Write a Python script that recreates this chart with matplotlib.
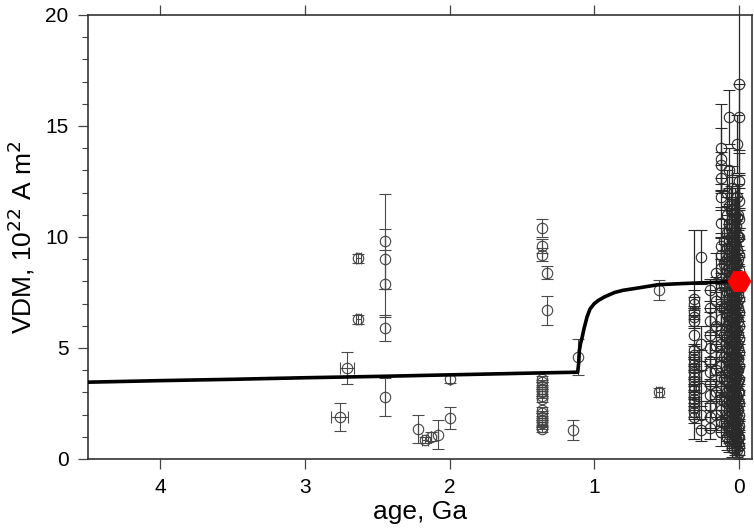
import numpy as np
import matplotlib.pyplot as plt
from matplotlib.ticker import MultipleLocator

plt.rcParams['font.family'] = ['Liberation Sans', 'DejaVu Sans']

# model curve
model_age = [4.5, 4.0, 3.5, 3.0, 2.5, 2.0, 1.5, 1.115, 1.108, 1.103, 1.095, 1.085,
             1.07, 1.05, 1.03, 1.0, 0.97, 0.93, 0.86, 0.8, 0.7, 0.56, 0.4, 0.2, 0.0]
model_vdm = [3.46, 3.53, 3.59, 3.66, 3.72, 3.79, 3.86, 3.91, 4.3, 4.9, 5.2, 5.45,
             5.9, 6.4, 6.75, 7.0, 7.15, 7.3, 7.5, 7.6, 7.7, 7.85, 7.9, 7.95, 8.0]

# older, scattered determinations
old_age = [2.71, 2.76, 2.63, 2.63, 2.45, 2.45, 2.45, 2.45, 2.45, 2.0, 2.0, 2.22,
           2.17, 2.13, 2.08, 1.36, 1.36, 1.36, 1.33, 1.33, 1.15, 1.11, 0.55, 0.55]
old_vdm = [4.1, 1.9, 9.05, 6.3, 9.8, 9.0, 7.9, 5.9, 2.8, 3.6, 1.85, 1.35,
           0.85, 1.0, 1.1, 10.4, 9.6, 9.2, 8.4, 6.7, 1.3, 4.6, 7.6, 3.0]
old_age_err = [0.05, 0.06, 0.02, 0.02, 0, 0, 0, 0, 0, 0, 0, 0,
               0.02, 0, 0, 0, 0, 0, 0, 0, 0, 0, 0, 0.02]
old_vdm_err = [0.7, 0.62, 0.2, 0.2, 2.15, 1.35, 1.5, 0.6, 0.85, 0.17, 0.5, 0.65,
               0.15, 0.2, 0.65, 0.4, 0.3, 0.3, 0.3, 0.65, 0.45, 0.8, 0.45, 0.2]

# tight group near 1.36 Ga
g136_vdm = [3.6, 3.45, 3.3, 3.15, 3.0, 2.85, 2.7, 2.2, 2.05, 1.9, 1.75, 1.6, 1.45, 1.35]
g136_err = [0.15, 0.1, 0.15, 0.1, 0.15, 0.1, 0.15, 0.15, 0.1, 0.15, 0.1, 0.15, 0.1, 0.15]

# young data, column by column
c031_vdm = [7.2, 7.0, 6.6, 6.4, 6.2, 5.6, 4.9, 4.7, 4.5, 4.3, 4.1, 3.9, 3.7, 3.5,
            3.3, 3.1, 2.9, 2.7, 2.5, 2.3, 2.1, 1.9]
c031_err = [0.4, 0.3, 0.3, 0.4, 0.3, 4.7, 0.3, 0.4, 0.3, 0.3, 0.4, 0.3, 0.3, 0.4,
            0.3, 0.3, 0.4, 0.3, 0.3, 0.4, 0.3, 0.3]
c025_vdm = [9.1, 5.2, 4.2, 3.2, 2.0, 1.3]
c025_err = [1.2, 0.8, 0.7, 0.8, 0.6, 0.5]
c020_vdm = [7.6, 6.8, 6.2, 5.6, 5.0, 4.4, 3.9, 3.4, 2.9, 2.4, 1.9, 1.4]
c020_err = [0.5, 0.8, 0.6, 1.0, 0.7, 0.9, 0.6, 0.8, 0.7, 1.0, 0.6, 0.5]
c016_vdm = [8.4, 7.1, 6.0, 5.1, 4.0, 3.0, 2.0]
c016_err = [0.9, 1.1, 0.8, 1.0, 0.9, 0.8, 0.7]
c013_vdm = [14.0, 13.5, 13.25, 12.65, 11.8, 10.65, 9.6, 9.2, 8.6, 8.1, 7.5, 6.9,
            6.3, 5.8, 5.2, 4.7, 4.2, 3.7, 3.2, 2.7, 2.2, 1.7, 1.2]
c013_err = [2.0, 1.4, 0.6, 0.6, 0.6, 0.7, 0.6, 0.8, 0.7, 0.9, 0.6, 0.8,
            0.7, 1.0, 0.6, 0.8, 0.9, 0.7, 0.6, 0.8, 0.7, 0.5, 0.6]
c010_vdm = [9.8, 8.8, 7.8, 6.8, 5.6, 4.6, 3.6, 2.6, 1.6]
c010_err = [1.0, 0.9, 1.1, 0.8, 1.0, 0.9, 0.8, 0.7, 0.6]
c008_vdm = [12.0, 11.0, 10.2, 9.5, 9.0, 8.5, 8.0, 7.5, 7.0, 6.5, 6.0, 5.5, 5.0,
            4.5, 4.0, 3.5, 3.0, 2.5, 2.0, 1.5, 1.0]
c008_err = [1.0, 0.8, 1.2, 0.9, 1.0, 0.8, 1.1, 0.9, 1.0, 0.8, 1.2, 0.9, 1.0,
            0.8, 1.1, 0.9, 1.0, 0.8, 0.9, 0.7, 0.6]
c0067_vdm = [15.4, 13.0, 11.4, 10.6, 9.8, 9.2, 8.7, 8.2, 7.7, 7.2, 6.7, 6.2, 5.8,
             5.3, 4.9, 4.4, 4.0, 3.5, 3.1, 2.6, 2.2, 1.7, 1.3, 0.8]
c0067_err = [1.2, 1.0, 0.8, 0.9, 0.8, 1.0, 0.7, 0.9, 0.8, 1.0, 0.7, 0.9, 0.8,
             1.0, 0.7, 0.9, 0.8, 1.0, 0.7, 0.9, 0.8, 0.7, 0.6, 0.5]
c0055_vdm = [11.2, 10.4, 9.6, 8.9, 8.3, 7.6, 7.0, 6.4, 5.9, 5.4, 4.9, 4.5, 4.1,
             3.7, 3.3, 2.9, 2.5, 2.1, 1.7, 1.4]
c0055_err = [1.1, 0.9, 1.2, 1.0, 1.1, 0.9, 1.2, 1.0, 1.1, 0.9, 1.2, 1.0, 1.1,
             0.9, 1.0, 0.9, 0.8, 0.7, 0.6, 0.5]
c0045_vdm = [12.2, 11.5, 10.8, 10.0, 9.3, 8.6, 7.9, 7.2, 6.6, 6.0, 5.4, 4.8, 4.3,
             3.8, 3.3, 2.8, 2.3, 1.8, 1.3, 0.9, 0.5]
c0045_err = [1.0, 1.2, 0.9, 1.1, 1.0, 1.2, 0.9, 1.1, 1.0, 1.2, 0.9, 1.1, 1.0,
             1.2, 0.9, 1.1, 1.0, 0.9, 0.8, 0.6, 0.4]
c0038_vdm = [9.8, 9.0, 8.3, 7.5, 6.9, 6.3, 5.7, 5.2, 4.7, 4.3, 3.9, 3.4, 2.9,
             2.5, 2.1, 1.7, 1.4, 1.1]
c0038_err = [1.2, 1.0, 1.3, 1.1, 1.2, 1.0, 1.3, 1.1, 1.2, 1.0, 1.1, 0.9, 1.0,
             0.9, 0.8, 0.7, 0.6, 0.5]
c003_vdm = [11.0, 10.3, 9.7, 9.0, 8.4, 7.7, 7.1, 6.5, 5.9, 5.3, 4.7, 4.1, 3.6,
            3.1, 2.6, 2.1, 1.6, 1.1, 0.7]
c003_err = [1.2, 1.0, 1.3, 1.1, 1.2, 1.0, 1.3, 1.1, 1.2, 1.0, 1.3, 1.1, 1.2,
            1.0, 1.1, 0.9, 0.8, 0.7, 0.5]
c0023_vdm = [10.5, 9.6, 8.8, 8.0, 7.3, 6.9, 6.3, 5.7, 5.1, 4.6, 4.1, 3.7, 3.3,
             2.9, 2.4, 2.0, 1.5, 1.2, 0.9, 0.6]
c0023_err = [1.3, 1.1, 1.2, 1.0, 1.3, 1.1, 1.2, 1.0, 1.3, 1.1, 1.2, 1.0, 1.1,
             0.9, 1.0, 0.8, 0.7, 0.6, 0.5, 0.4]
c0016_vdm = [14.2, 11.8, 10.9, 10.1, 9.4, 8.8, 8.2, 7.6, 7.0, 6.4, 5.8, 5.2, 4.6,
             4.0, 3.4, 2.8, 2.2, 1.7, 1.2, 0.8, 0.4]
c0016_err = [1.3, 1.0, 1.1, 0.9, 1.0, 1.2, 0.9, 1.1, 1.0, 1.2, 0.9, 1.1, 1.0,
             1.2, 0.9, 1.1, 1.0, 0.9, 0.8, 0.6, 0.3]
c0008_vdm = [11.0, 10.0, 9.0, 8.2, 7.4, 6.8, 6.2, 5.6, 5.0, 4.5, 4.0, 3.5, 3.0,
             2.6, 2.2, 1.8, 1.4, 1.0, 0.7]
c0008_err = [1.4, 1.2, 1.3, 1.1, 1.4, 1.2, 1.3, 1.1, 1.4, 1.2, 1.3, 1.1, 1.2,
             1.0, 1.1, 0.9, 0.8, 0.6, 0.5]
c000_vdm = [16.9, 15.4, 12.5, 11.6, 10.8, 10.0, 9.2, 8.5, 7.8, 7.2, 6.6, 6.0,
            5.4, 4.8, 4.2, 3.6, 3.0, 2.5, 2.0, 1.5, 1.0, 0.6, 0.3]
c000_err = [4.0, 1.5, 1.3, 1.2, 1.4, 1.3, 1.2, 1.4, 1.3, 1.2, 1.4, 1.3,
            1.2, 1.4, 1.3, 1.2, 1.3, 1.2, 1.1, 1.0, 0.8, 0.6, 0.4]

present_age = 0.0
present_vdm = 8.0

young_cols = [(0.31, c031_vdm, c031_err), (0.26, c025_vdm, c025_err),
              (0.20, c020_vdm, c020_err), (0.16, c016_vdm, c016_err),
              (0.125, c013_vdm, c013_err), (0.105, c010_vdm, c010_err),
              (0.085, c008_vdm, c008_err), (0.068, c0067_vdm, c0067_err),
              (0.055, c0055_vdm, c0055_err), (0.045, c0045_vdm, c0045_err),
              (0.037, c0038_vdm, c0038_err), (0.03, c003_vdm, c003_err),
              (0.023, c0023_vdm, c0023_err), (0.016, c0016_vdm, c0016_err),
              (0.008, c0008_vdm, c0008_err), (0.0, c000_vdm, c000_err)]

fig = plt.figure(figsize=(7.54, 5.31), dpi=100)
ax = fig.add_axes([0.1167, 0.1356, 0.8806, 0.8362])

eb_style = dict(fmt='o', mfc='none', mec='#444444', ms=7.5, mew=0.8,
                ecolor='#4a4a4a', elinewidth=0.8, capsize=4, capthick=0.8, zorder=2)
young_style = dict(eb_style, mec='#2a2a2a', ecolor='#2a2a2a', elinewidth=0.9)

ax.errorbar(old_age, old_vdm, xerr=old_age_err, yerr=old_vdm_err, **eb_style)
ax.errorbar(np.full(len(g136_vdm), 1.36), g136_vdm, yerr=g136_err, **eb_style)
for age, vdm, err in young_cols:
    ax.errorbar(np.full(len(vdm), age), vdm, yerr=err, **young_style)

ax.plot(model_age, model_vdm, color='black', lw=2.6, zorder=3)
ax.plot(present_age, present_vdm, marker='H', color='red', ms=16, zorder=4,
        clip_on=False)

ax.set_xlim(4.5, -0.09)
ax.set_ylim(0, 20)
ax.set_xticks([4, 3, 2, 1, 0])
ax.set_yticks([0, 5, 10, 15, 20])
ax.yaxis.set_minor_locator(MultipleLocator(1))
ax.tick_params(which='major', direction='out', length=7, width=0.9, pad=7,
               labelsize=15, top=True, color='#444444')
ax.tick_params(which='minor', direction='out', length=4, width=0.8, color='#444444')
for s in ax.spines.values():
    s.set_linewidth(1.2)
    s.set_color('#333333')

ax.set_xlabel('age, Ga', fontsize=19, labelpad=2)
ax.set_ylabel('VDM, 10$^{22}$ A m$^2$', fontsize=19, labelpad=6)

plt.savefig('out.png', dpi=100)
